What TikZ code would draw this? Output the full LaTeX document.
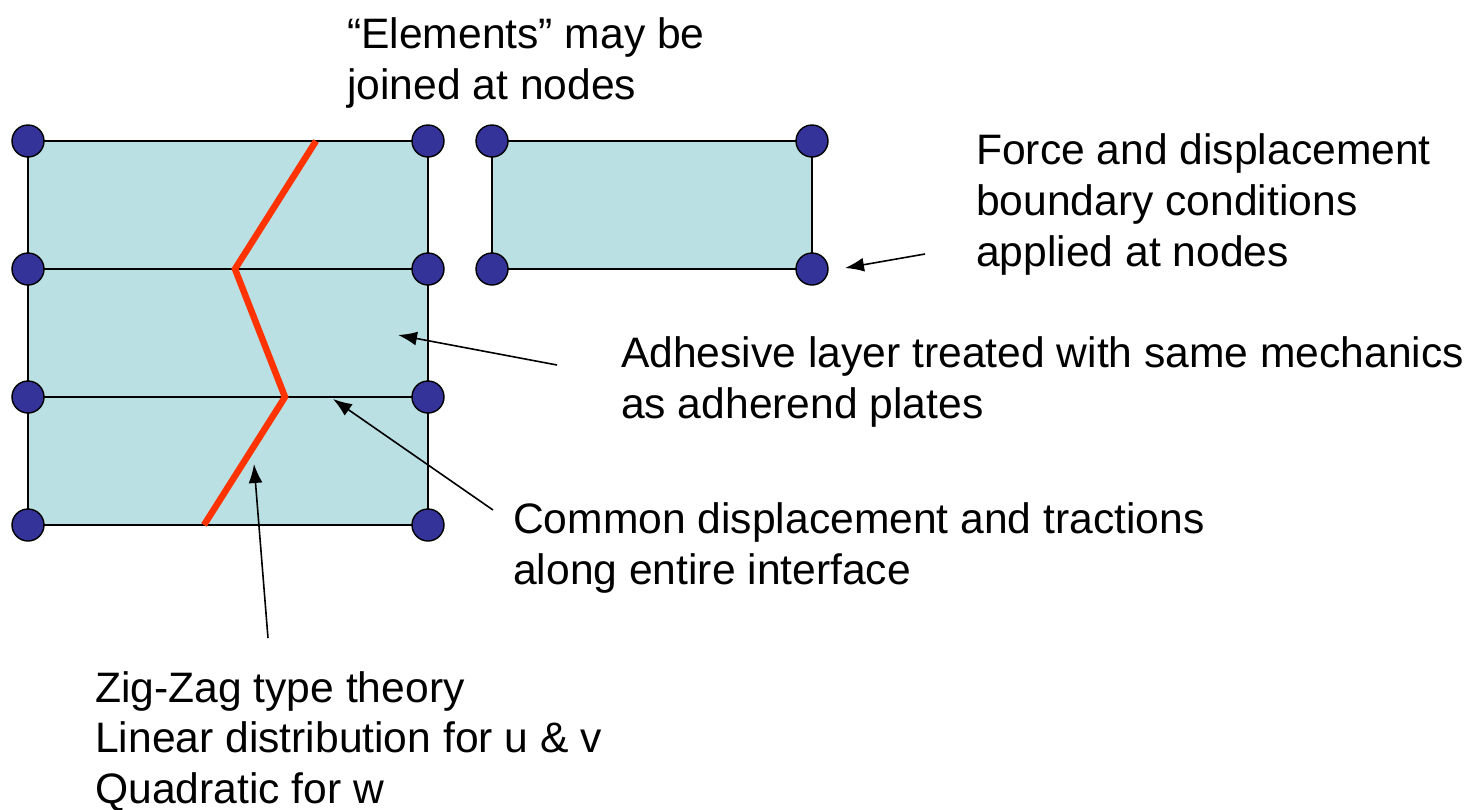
\documentclass[tikz,border=0pt]{standalone}
\usepackage{fontspec}
\setmainfont{Liberation Sans}
\usetikzlibrary{arrows.meta}
\definecolor{cellfill}{HTML}{BBE0E3}
\definecolor{nodeblue}{HTML}{333399}
\definecolor{zigred}{HTML}{FF3300}
\begin{document}
\begin{tikzpicture}[x=1pt,y=-1pt,
  fenode/.style={circle,draw=black,line width=1.4pt,fill=nodeblue,minimum size=32pt,inner sep=0pt},
  cell/.style={fill=cellfill,draw=black,line width=2pt},
  zig/.style={draw=zigred,line width=6.5pt},
  pointer/.style={draw=black,line width=1.6pt,-{Latex[length=19pt,width=14pt]}},
  label/.style={anchor=base west,inner sep=0pt,align=left,font=\fontsize{42.6}{51}\selectfont}]
\useasboundingbox (0,0) rectangle (1470,809);
% corner coordinates
\coordinate (a1) at (28,141);
\coordinate (b1) at (428,141);
\coordinate (a2) at (28,269);
\coordinate (b2) at (428,269);
\coordinate (a3) at (28,397);
\coordinate (b3) at (428,397);
\coordinate (a4) at (28,525);
\coordinate (b4) at (428,525);
\coordinate (c1) at (492,141);
\coordinate (d1) at (812,141);
\coordinate (c2) at (492,269);
\coordinate (d2) at (812,269);
% cells
\path[cell] (a1) rectangle (b4);
\draw[line width=2pt] (a2) -- (b2) (a3) -- (b3);
\path[cell] (c1) rectangle (d2);
% zig-zag
\coordinate (z1) at (316,141);
\coordinate (z2) at (235,269);
\coordinate (z3) at (285,397);
\coordinate (z4) at (204,525);
\draw[zig] (z1) -- (z2) -- (z3) -- (z4);
% nodes
\foreach \n in {a1,b1,a2,b2,a3,b3,a4,b4,c1,d1,c2,d2}
  \node[fenode] (N\n) at (\n) {};
% texts (anchor is the baseline of the last line)
\node[label] (telem) at (347,99) {“Elements” may be\\joined at nodes};
\node[label] (tforce) at (976,266) {Force and displacement\\boundary conditions\\applied at nodes};
\node[label] (tadh) at (621,418) {Adhesive layer treated with same mechanics\\as adherend plates};
\node[label] (tcom) at (513,584) {Common displacement and tractions\\along entire interface};
\node[label,font=\fontsize{42.6}{50.5}\selectfont] (tzig) at (95,803) {Zig-Zag type theory\\Linear distribution for u \& v\\Quadratic for w};
% arrows
\coordinate (p1s) at (925,254);
\coordinate (p1e) at (845,268);
\coordinate (p2s) at (557,365);
\coordinate (p2e) at (398,335);
\coordinate (p3s) at (493,510);
\coordinate (p3e) at (333,399);
\coordinate (p4s) at (268,638);
\coordinate (p4e) at (254,464);
\draw[pointer] (p1s) -- (p1e);
\draw[pointer] (p2s) -- (p2e);
\draw[pointer] (p3s) -- (p3e);
\draw[pointer] (p4s) -- (p4e);
\end{tikzpicture}
\end{document}
